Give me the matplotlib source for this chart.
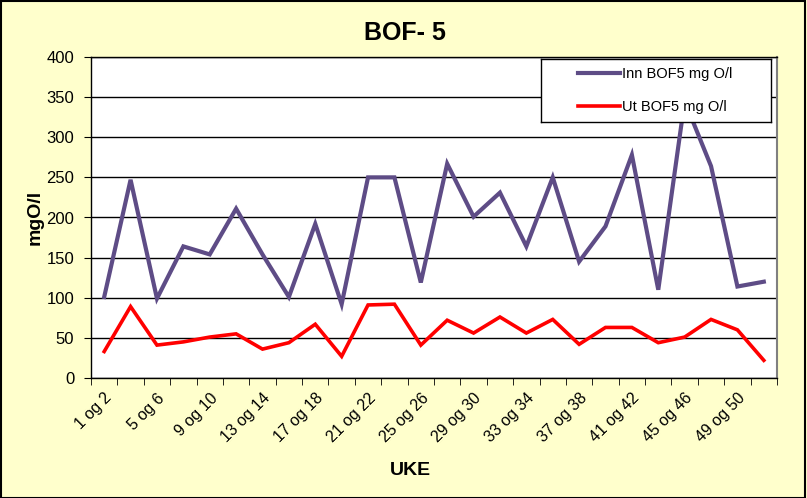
import matplotlib.pyplot as plt
from matplotlib.patches import Rectangle

plt.rcParams['font.family'] = ['Liberation Sans', 'DejaVu Sans']

# week pairs 1 og 2 ... 51 og 52
weeks = [f"{w} og {w + 1}" for w in range(1, 53, 2)]

inn_bof5 = [101, 247, 99, 164, 154, 211, 154, 101, 192, 92, 250, 250, 119,
            267, 201, 231, 164, 250, 145, 189, 278, 110, 345, 264, 114, 120]
ut_bof5 = [33, 89, 41, 45, 51, 55, 36, 44, 67, 27, 91, 92, 41,
           72, 56, 76, 56, 73, 42, 63, 63, 44, 51, 73, 60, 22]

yticks = list(range(0, 401, 50))

W, H = 807, 498
bg = '#FFFFCC'
fig = plt.figure(figsize=(W / 100, H / 100), dpi=100, facecolor=bg)
ax = fig.add_axes([91 / W, 1 - 378 / H, 686 / W, 321 / H])
ax.set_facecolor('white')

x = list(range(len(weeks)))
l1, = ax.plot(x, inn_bof5, color='#5E4C86', lw=3.0, label='Inn BOF5 mg O/l',
              solid_joinstyle='miter', zorder=3)
l2, = ax.plot(x, ut_bof5, color='#FF0000', lw=2.6, label='Ut BOF5 mg O/l',
              solid_joinstyle='miter', zorder=3)

ax.set_xlim(-0.5, len(weeks) - 0.5)
ax.set_ylim(0, 400)
ax.set_yticks(yticks)
ax.set_yticklabels([str(v) for v in yticks], fontsize=12)
ax.grid(axis='y', color='black', lw=1.0, zorder=1)
ax.set_axisbelow(True)

# labels at every second category, tick marks between categories
ax.set_xticks(x[::2])
ax.set_xticklabels(weeks[::2], rotation=45, ha='right', va='top',
                   rotation_mode='anchor', fontsize=11.5)
ax.tick_params(axis='x', which='major', length=0, pad=9)
ax.set_xticks([i - 0.5 for i in range(len(weeks) + 1)], minor=True)
ax.tick_params(axis='x', which='minor', length=5, direction='out', color='black')
ax.tick_params(axis='y', length=5, direction='out', color='black', pad=7)

for s in ['left', 'bottom', 'top']:
    ax.spines[s].set_color('black')
    ax.spines[s].set_linewidth(1.0)
ax.spines['right'].set_color('#808080')
ax.spines['right'].set_linewidth(1.5)

# legend box as its own small axes, drawn above the lines
lax = fig.add_axes([541 / W, 1 - 122 / H, 230 / W, 63 / H], zorder=5)
lax.set_facecolor('white')
lax.set_xticks([])
lax.set_yticks([])
for s in lax.spines.values():
    s.set_color('black')
    s.set_linewidth(1.0)
lax.legend(handles=[l1, l2], loc='center left', bbox_to_anchor=(37 / 230, 0.5),
           frameon=False, fontsize=10.5, handlelength=2.9, handletextpad=0.1,
           labelspacing=1.3, borderpad=0, borderaxespad=0)

fig.text(405 / W, 1 - 33 / H, 'BOF- 5', ha='center', va='center',
         fontsize=18, fontweight='bold')
fig.text(410 / W, 1 - 470 / H, 'UKE', ha='center', va='center',
         fontsize=14, fontweight='bold')
fig.text(35 / W, 1 - 217 / H, 'mgO/l', ha='center', va='center',
         rotation=90, fontsize=14, fontweight='bold')

fig.patches.append(Rectangle((0.001, 0.001), 0.997, 0.997, transform=fig.transFigure,
                             fill=False, edgecolor='black', lw=1.5))

fig.savefig('out.png', dpi=100, facecolor=bg)
